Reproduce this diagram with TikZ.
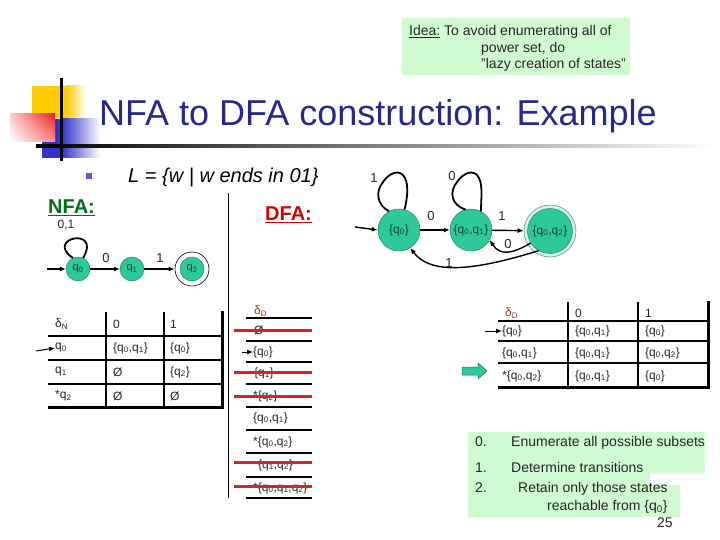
\documentclass[tikz,border=0pt]{standalone}
\usepackage{fontspec}
\setmainfont{Liberation Sans}
\usetikzlibrary{arrows.meta,shadings}
\definecolor{teal1}{RGB}{45,200,155}
\definecolor{ring}{RGB}{215,242,236}
\definecolor{boxgreen}{RGB}{208,250,208}
\definecolor{titleblue}{RGB}{40,40,140}
\definecolor{logoyellow}{RGB}{255,204,0}
\definecolor{logoblue}{RGB}{50,50,200}
\definecolor{logored}{RGB}{235,30,30}
\definecolor{nfagreen}{RGB}{0,110,20}
\definecolor{dfared}{RGB}{210,0,0}
\definecolor{strike}{RGB}{215,35,35}
\definecolor{deltared}{RGB}{180,40,40}
\definecolor{statetext}{RGB}{20,70,50}
\newcommand{\sq}[1]{q\textsubscript{#1}}
\newcommand{\fs}[1]{\fontsize{#1}{#1}\selectfont}
\tikzset{
  txt/.style={anchor=base west, inner sep=0pt, text=black!85},
  cell/.style={anchor=west, inner sep=0pt, font=\fs{12}, text=black!85},
  nstate/.style={circle, fill=teal1, draw=teal1!60!black, line width=0.4pt, minimum size=24pt, inner sep=0pt, font=\fs{11}, text=statetext},
  dstate/.style={circle, fill=teal1, draw=teal1!60!black, line width=0.4pt, minimum size=42pt, inner sep=0pt, font=\fs{12}, text=statetext},
  edge/.style={line width=1.4pt, -{Latex[length=6pt,width=5pt]}},
  loopline/.style={line width=1.8pt},
  elabel/.style={font=\fs{13}, inner sep=0pt, text=black!85},
  tline/.style={line width=1.6pt},
  tthick/.style={line width=3pt},
  strk/.style={line width=3pt, strike},
}
\begin{document}
\begin{tikzpicture}[x=1pt,y=-1pt]
\useasboundingbox (0,0) rectangle (720,540);
\fill[white] (0,0) rectangle (720,540);
% logo
\fill[logoyellow] (32,86) rectangle (66,118);
\shade[left color=logoyellow, right color=white] (66,86) rectangle (86,118);
\fill[logoblue] (42,119) rectangle (62,158);
\shade[left color=logoblue, right color=white] (62,119) rectangle (100,158);
\shade[upper left=red!20, upper right=logored, lower left=white, lower right=red!45] (10,114) rectangle (55,142);
\fill[black] (59.5,78) rectangle (62.5,161);
\shade[left color=black, middle color=black!40, right color=white] (36,144.5) rectangle (716,147.5);
% idea box
\fill[boxgreen] (402,18) rectangle (630,75);
\node[txt, font=\fs{14}] (idea1) at (409,36) {\underline{Idea:} To avoid enumerating all of};
\node[txt, font=\fs{14}] (idea2) at (481,52.5) {power set, do};
\node[txt, font=\fs{14}] (idea3) at (481,69) {"lazy creation of states"};
% title
\node[txt, font=\fs{36}, text=titleblue] (title) at (99,126) {NFA to DFA construction: Example};
\fill[logoblue!80] (85.5,173.5) rectangle (91.5,179.5);
\node[txt, font=\fs{20}\itshape, text=black] (lang) at (128,183) {L = \{w | w ends in 01\}};
\node[txt, font=\fs{20}\bfseries, text=nfagreen] (nfa) at (48,214) {\underline{NFA:}};
\node[txt, font=\fs{20}\bfseries, text=dfared] (dfa) at (265,221) {\underline{DFA:}};
\draw[line width=1pt] (228,193) -- (228,498);
% NFA automaton
\node[nstate] (q0) at (78,269) {\sq{0}};
\node[nstate] (q1) at (132,269) {\sq{1}};
\node[circle, draw=black, line width=0.6pt, fill=white, minimum size=34pt, inner sep=0pt] (q2o) at (192,269) {};
\node[nstate] (q2) at (192,269) {\sq{2}};
\coordinate (nstart) at (47,269);
\draw[edge] (nstart) -- (q0);
\draw[edge] (q0) -- (q1);
\draw[edge] (q1) -- (q2o);
\draw[loopline] (q0.115) .. controls (44,238) and (102,226) .. (q0.65);
\node[elabel, font=\fs{12}] (l01) at (66,225) {0,1};
\node[elabel] (lq0q1) at (106,258) {0};
\node[elabel] (lq1q2) at (160,258) {1};
% DFA automaton
\node[dstate] (A) at (399,230) {\{\sq{0}\}};
\node[dstate] (B) at (471,230) {\{\sq{0},\sq{1}\}};
\node[circle, fill=ring, draw=teal1!40!gray, line width=0.6pt, minimum size=52pt, inner sep=0pt] (C) at (550,231) {};
\node[dstate, minimum size=45pt] (Ci) at (550,231) {\{\sq{0},\sq{2}\}};
\coordinate (dstart) at (355,227);
\draw[edge] (dstart) -- (A.west);
\draw[edge] (A) -- (B);
\draw[edge] (B) -- (C);
\draw[edge] (Ci.212) .. controls (512,254) and (500,256) .. (B.-28);
\draw[edge] (Ci.240) .. controls (470,272) and (430,274) .. (A.-58);
\draw[loopline] (A.118) .. controls (377,205) and (375,192) .. (383,182) .. controls (389,173) and (400,168) .. (405,178) .. controls (409,186) and (407,200) .. (A.75);
\draw[loopline] (B.105) .. controls (451,205) and (449,192) .. (457,182) .. controls (463,173) and (474,168) .. (479,178) .. controls (483,186) and (481,200) .. (B.62);
\node[elabel] (lA) at (374,178) {1};
\node[elabel] (lB) at (452,176) {0};
\node[elabel] (lAB) at (431,216) {0};
\node[elabel] (lBC) at (502,216) {1};
\node[elabel] (lCB) at (508,244) {0};
\node[elabel] (lCA) at (449,263) {1};
% NFA table
\draw[tline] (106,312) -- (106,407);
\draw[tline] (164,312) -- (164,407);
\draw[tthick] (222,311) -- (222,408.5);
\draw[tline] (48,336) -- (222,336);
\draw[tline] (48,360) -- (222,360);
\draw[tline] (48,384) -- (222,384);
\draw[tthick] (48,407) -- (223.5,407);
\node[cell] (n00) at (55,324) {δ\textsubscript{N}};
\node[cell] (n01) at (113,324) {0};
\node[cell] (n02) at (170,324) {1};
\node[cell] (n10) at (55,348) {\sq{0}};
\node[cell] (n11) at (113,348) {\{\sq{0},\sq{1}\}};
\node[cell] (n12) at (170,348) {\{\sq{0}\}};
\node[cell] (n20) at (55,372) {\sq{1}};
\node[cell] (n21) at (113,372) {Ø};
\node[cell] (n22) at (170,372) {\{\sq{2}\}};
\node[cell] (n30) at (55,396) {*\sq{2}};
\node[cell] (n31) at (113,396) {Ø};
\node[cell] (n32) at (170,396) {Ø};
\coordinate (ntstart) at (36,351);
\draw[edge, line width=1pt] (ntstart) -- (n10.west);
% middle list
\foreach \yy in {318,341,362,384,407,430,453,477,498}
  \draw[tline] (246,\yy) -- (312,\yy);
\node[cell, text=deltared] (m0) at (254,311) {δ\textsubscript{D}};
\node[cell] (m1) at (254,330) {Ø};
\node[cell] (m2) at (253,352) {\{\sq{0}\}};
\node[cell] (m3) at (254,373) {\{\sq{1}\}};
\node[cell] (m4) at (253,396) {*\{\sq{2}\}};
\node[cell] (m5) at (253,418) {\{\sq{0},\sq{1}\}};
\node[cell] (m6) at (253,442) {*\{\sq{0},\sq{2}\}};
\node[cell] (m7) at (258,465) {\{\sq{1},\sq{2}\}};
\node[cell] (m8) at (253,488) {*\{\sq{0},\sq{1},\sq{2}\}};
\coordinate (mstart) at (242,352);
\draw[edge, line width=1pt] (mstart) -- (m2.west);
\foreach \yy in {330,372,396,462,486}
  \draw[strk] (234,\yy) -- (312,\yy);
% DFA table
\draw[tline] (568,302) -- (568,387);
\draw[tline] (638,302) -- (638,387);
\draw[tthick] (708,301) -- (708,388.5);
\draw[tline] (498,321) -- (708,321);
\draw[tline] (498,341) -- (708,341);
\draw[tline] (498,363) -- (708,363);
\draw[tthick] (498,387) -- (709.5,387);
\node[cell, text=deltared] (d00) at (505,313) {δ\textsubscript{D}};
\node[cell] (d01) at (575,313) {0};
\node[cell] (d02) at (645,313) {1};
\node[cell] (d10) at (502,331) {\{\sq{0}\}};
\node[cell] (d11) at (575,331) {\{\sq{0},\sq{1}\}};
\node[cell] (d12) at (645,331) {\{\sq{0}\}};
\node[cell] (d20) at (502,353) {\{\sq{0},\sq{1}\}};
\node[cell] (d21) at (575,353) {\{\sq{0},\sq{1}\}};
\node[cell] (d22) at (645,353) {\{\sq{0},\sq{2}\}};
\node[cell] (d30) at (502,376) {*\{\sq{0},\sq{2}\}};
\node[cell] (d31) at (575,376) {\{\sq{0},\sq{1}\}};
\node[cell] (d32) at (645,376) {\{\sq{0}\}};
\coordinate (dtstart) at (485,331);
\draw[edge, line width=1pt] (dtstart) -- (d10.west);
\filldraw[fill=teal1, draw=teal1!60!black, line width=0.5pt] (462,367) -- (478,367) -- (478,363) -- (487,371) -- (478,379) -- (478,375) -- (462,375) -- cycle;
% steps box
\fill[boxgreen] (468,432) -- (705,432) -- (705,473) -- (650,473) -- (650,485) -- (680,485) -- (680,517) -- (468,517) -- cycle;
\node[txt, font=\fs{14}] (s0n) at (475,446) {0.};
\node[txt, font=\fs{14}] (s0) at (511,446) {Enumerate all possible subsets};
\node[txt, font=\fs{14}] (s1n) at (475,472) {1.};
\node[txt, font=\fs{14}] (s1) at (511,472) {Determine transitions};
\node[txt, font=\fs{14}] (s2n) at (475,492) {2.};
\node[txt, font=\fs{14}] (s2) at (518,492) {Retain only those states};
\node[txt, font=\fs{14}] (s2b) at (547,510) {reachable from \{\sq{0}\}};
\node[txt, font=\fs{14}] (pg) at (657,527) {25};
\end{tikzpicture}
\end{document}
